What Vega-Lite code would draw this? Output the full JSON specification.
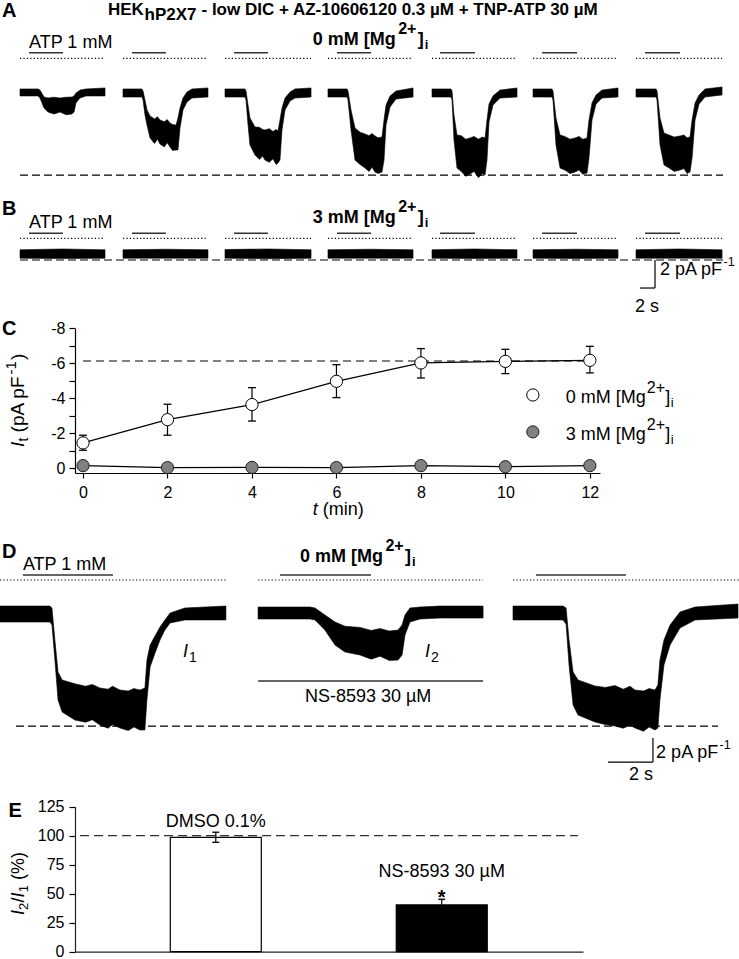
{
"$schema":"https://vega.github.io/schema/vega-lite/v6.json",
"width":739,"height":959,"autosize":"none","padding":0,"background":"white",
"config":{"view":{"stroke":null},"font":"Liberation Sans",
"text":{"font":"Liberation Sans","fontSize":18,"color":"black","align":"left","baseline":"alphabetic"},
"axis":{"labelFont":"Liberation Sans","labelFontSize":16,"labelColor":"black","domainColor":"black","tickColor":"black","domainWidth":1.2,"tickWidth":1.2,"grid":false}},
"resolve":{"scale":{"x":"independent","y":"independent"}},
"datasets":{
"traceA":[
{"sweep":1,"t":2.67,"hi":0.29,"lo":-0.21},{"sweep":1,"t":5.07,"hi":0.29,"lo":-0.21},{"sweep":1,"t":5.33,"hi":0.21,"lo":-0.36},{"sweep":1,"t":5.87,"hi":-0.29,"lo":-1.07},{"sweep":1,"t":6.4,"hi":-0.36,"lo":-1.36},{"sweep":1,"t":7.2,"hi":-0.3,"lo":-1.5},{"sweep":1,"t":8.0,"hi":-0.36,"lo":-1.36},{"sweep":1,"t":8.8,"hi":-0.3,"lo":-1.55},{"sweep":1,"t":9.6,"hi":-0.29,"lo":-1.5},{"sweep":1,"t":9.87,"hi":-0.21,"lo":-1.36},{"sweep":1,"t":10.13,"hi":0,"lo":-0.71},{"sweep":1,"t":10.67,"hi":0.21,"lo":-0.36},{"sweep":1,"t":11.47,"hi":0.29,"lo":-0.21},{"sweep":1,"t":14.0,"hi":0.36,"lo":-0.21},
{"sweep":2,"t":16.4,"hi":0.29,"lo":-0.29},{"sweep":2,"t":18.93,"hi":0.29,"lo":-0.29},{"sweep":2,"t":19.07,"hi":0.14,"lo":-0.5},{"sweep":2,"t":19.33,"hi":-0.5,"lo":-1.57},{"sweep":2,"t":19.6,"hi":-1.21,"lo":-2.29},{"sweep":2,"t":20.0,"hi":-1.64,"lo":-3.21},{"sweep":2,"t":20.6,"hi":-1.85,"lo":-3.6},{"sweep":2,"t":21.0,"hi":-1.7,"lo":-3.3},{"sweep":2,"t":21.33,"hi":-1.93,"lo":-3.64},{"sweep":2,"t":21.9,"hi":-2.05,"lo":-3.85},{"sweep":2,"t":22.3,"hi":-1.9,"lo":-3.55},{"sweep":2,"t":22.67,"hi":-2.14,"lo":-3.86},{"sweep":2,"t":23.0,"hi":-2.25,"lo":-4.1},{"sweep":2,"t":23.47,"hi":-2.29,"lo":-4.07},{"sweep":2,"t":23.73,"hi":-1.79,"lo":-4.07},{"sweep":2,"t":24.0,"hi":-1.07,"lo":-2.5},{"sweep":2,"t":24.4,"hi":-0.36,"lo":-1.21},{"sweep":2,"t":24.93,"hi":0.07,"lo":-0.64},{"sweep":2,"t":25.6,"hi":0.29,"lo":-0.36},{"sweep":2,"t":27.73,"hi":0.36,"lo":-0.29},
{"sweep":3,"t":30.0,"hi":0.29,"lo":-0.29},{"sweep":3,"t":32.67,"hi":0.29,"lo":-0.29},{"sweep":3,"t":32.8,"hi":0.14,"lo":-0.5},{"sweep":3,"t":33.07,"hi":-0.86,"lo":-2.29},{"sweep":3,"t":33.33,"hi":-1.79,"lo":-3.71},{"sweep":3,"t":34.0,"hi":-2.43,"lo":-4.43},{"sweep":3,"t":34.6,"hi":-2.45,"lo":-4.75},{"sweep":3,"t":35.0,"hi":-2.6,"lo":-4.5},{"sweep":3,"t":35.33,"hi":-2.64,"lo":-4.79},{"sweep":3,"t":35.9,"hi":-2.55,"lo":-4.95},{"sweep":3,"t":36.4,"hi":-2.75,"lo":-4.7},{"sweep":3,"t":36.8,"hi":-2.6,"lo":-5.1},{"sweep":3,"t":37.07,"hi":-2.71,"lo":-5.0},{"sweep":3,"t":37.33,"hi":-1.93,"lo":-4.79},{"sweep":3,"t":37.6,"hi":-1.07,"lo":-2.64},{"sweep":3,"t":38.0,"hi":-0.36,"lo":-1.21},{"sweep":3,"t":38.67,"hi":0.07,"lo":-0.57},{"sweep":3,"t":39.33,"hi":0.29,"lo":-0.36},{"sweep":3,"t":41.47,"hi":0.36,"lo":-0.29},
{"sweep":4,"t":43.73,"hi":0.29,"lo":-0.29},{"sweep":4,"t":46.27,"hi":0.29,"lo":-0.29},{"sweep":4,"t":46.4,"hi":0.14,"lo":-0.5},{"sweep":4,"t":46.8,"hi":-1.21,"lo":-2.64},{"sweep":4,"t":47.33,"hi":-2.5,"lo":-4.79},{"sweep":4,"t":48.0,"hi":-2.8,"lo":-5.1},{"sweep":4,"t":48.67,"hi":-2.93,"lo":-5.36},{"sweep":4,"t":49.2,"hi":-3.05,"lo":-5.6},{"sweep":4,"t":49.6,"hi":-2.9,"lo":-5.3},{"sweep":4,"t":50.0,"hi":-3.07,"lo":-5.64},{"sweep":4,"t":50.4,"hi":-3.2,"lo":-5.75},{"sweep":4,"t":50.93,"hi":-3.14,"lo":-5.64},{"sweep":4,"t":51.2,"hi":-1.93,"lo":-4.79},{"sweep":4,"t":51.47,"hi":-0.86,"lo":-2.29},{"sweep":4,"t":52.0,"hi":-0.21,"lo":-1.0},{"sweep":4,"t":52.8,"hi":0.14,"lo":-0.43},{"sweep":4,"t":55.07,"hi":0.36,"lo":-0.29},
{"sweep":5,"t":57.6,"hi":0.29,"lo":-0.29},{"sweep":5,"t":60.13,"hi":0.29,"lo":-0.29},{"sweep":5,"t":60.27,"hi":0.14,"lo":-0.5},{"sweep":5,"t":60.53,"hi":-1.57,"lo":-3.36},{"sweep":5,"t":60.93,"hi":-3.0,"lo":-5.36},{"sweep":5,"t":61.5,"hi":-3.05,"lo":-5.6},{"sweep":5,"t":62.1,"hi":-3.3,"lo":-5.95},{"sweep":5,"t":62.67,"hi":-3.21,"lo":-5.79},{"sweep":5,"t":63.2,"hi":-3.1,"lo":-5.6},{"sweep":5,"t":63.8,"hi":-3.3,"lo":-6.05},{"sweep":5,"t":64.3,"hi":-3.15,"lo":-5.75},{"sweep":5,"t":64.67,"hi":-3.21,"lo":-5.86},{"sweep":5,"t":64.93,"hi":-1.93,"lo":-4.79},{"sweep":5,"t":65.2,"hi":-0.79,"lo":-2.07},{"sweep":5,"t":65.73,"hi":-0.21,"lo":-0.86},{"sweep":5,"t":66.67,"hi":0.21,"lo":-0.36},{"sweep":5,"t":68.93,"hi":0.36,"lo":-0.29},
{"sweep":6,"t":71.07,"hi":0.29,"lo":-0.29},{"sweep":6,"t":73.6,"hi":0.29,"lo":-0.29},{"sweep":6,"t":73.73,"hi":0.14,"lo":-0.5},{"sweep":6,"t":74.13,"hi":-1.79,"lo":-3.71},{"sweep":6,"t":74.67,"hi":-3.0,"lo":-5.36},{"sweep":6,"t":75.3,"hi":-3.1,"lo":-5.5},{"sweep":6,"t":76.0,"hi":-3.3,"lo":-5.75},{"sweep":6,"t":76.67,"hi":-3.21,"lo":-5.64},{"sweep":6,"t":77.2,"hi":-3.1,"lo":-5.5},{"sweep":6,"t":77.7,"hi":-3.3,"lo":-5.8},{"sweep":6,"t":78.27,"hi":-3.21,"lo":-5.71},{"sweep":6,"t":78.53,"hi":-1.93,"lo":-4.64},{"sweep":6,"t":78.93,"hi":-0.71,"lo":-1.93},{"sweep":6,"t":79.47,"hi":-0.14,"lo":-0.79},{"sweep":6,"t":80.27,"hi":0.21,"lo":-0.36},{"sweep":6,"t":82.4,"hi":0.36,"lo":-0.29},
{"sweep":7,"t":84.8,"hi":0.29,"lo":-0.29},{"sweep":7,"t":87.47,"hi":0.29,"lo":-0.29},{"sweep":7,"t":87.6,"hi":0.14,"lo":-0.5},{"sweep":7,"t":88.0,"hi":-1.79,"lo":-3.71},{"sweep":7,"t":88.53,"hi":-2.86,"lo":-5.14},{"sweep":7,"t":89.2,"hi":-3.0,"lo":-5.35},{"sweep":7,"t":89.9,"hi":-3.15,"lo":-5.6},{"sweep":7,"t":90.67,"hi":-3.07,"lo":-5.5},{"sweep":7,"t":91.2,"hi":-3.0,"lo":-5.4},{"sweep":7,"t":91.6,"hi":-3.2,"lo":-5.75},{"sweep":7,"t":92.0,"hi":-3.14,"lo":-5.64},{"sweep":7,"t":92.27,"hi":-1.93,"lo":-4.64},{"sweep":7,"t":92.67,"hi":-0.71,"lo":-1.93},{"sweep":7,"t":93.2,"hi":-0.14,"lo":-0.79},{"sweep":7,"t":94.0,"hi":0.29,"lo":-0.29},{"sweep":7,"t":96.27,"hi":0.43,"lo":-0.14}
],
"sweepA":[{"t0":2.67,"t1":14.0},{"t0":16.4,"t1":27.73},{"t0":30.0,"t1":41.47},{"t0":43.73,"t1":55.07},{"t0":57.6,"t1":68.93},{"t0":71.07,"t1":82.4},{"t0":84.8,"t1":96.27}],
"atpA":[{"t0":3.87,"t1":8.4},{"t0":17.6,"t1":22.13},{"t0":31.2,"t1":35.73},{"t0":44.93,"t1":49.47},{"t0":58.67,"t1":63.33},{"t0":72.27,"t1":76.93},{"t0":86.0,"t1":90.67}],
"refA":[{"t0":2.67,"t1":96.4,"I":-5.86}],
"txtA":[
{"part":"letter","label":"A","t":0.27,"I":5.43},
{"part":"title1","label":"HEK","t":14.4,"I":5.57},
{"part":"title2","label":"hP2X7","t":14.4,"I":5.57},
{"part":"title3","label":"- low DIC + AZ-10606120 0.3 µM + TNP-ATP 30 µM","t":14.4,"I":5.57},
{"part":"atp","label":"ATP 1 mM","t":3.87,"I":3.21},
{"part":"mg1","label":"0 mM [Mg","t":41.69,"I":3.43},
{"part":"mg2","label":"2+","t":41.69,"I":3.43},
{"part":"mg3","label":"]","t":41.69,"I":3.43},
{"part":"mg4","label":"i","t":41.69,"I":3.43}
],
"traceB":[
{"sweep":1,"t":2.67,"hi":0.3,"lo":-0.3},{"sweep":1,"t":8.3,"hi":0.36,"lo":-0.33},{"sweep":1,"t":14.0,"hi":0.3,"lo":-0.3},
{"sweep":2,"t":16.4,"hi":0.3,"lo":-0.3},{"sweep":2,"t":22.1,"hi":0.34,"lo":-0.3},{"sweep":2,"t":27.73,"hi":0.3,"lo":-0.3},
{"sweep":3,"t":30.0,"hi":0.32,"lo":-0.3},{"sweep":3,"t":35.7,"hi":0.36,"lo":-0.34},{"sweep":3,"t":41.47,"hi":0.3,"lo":-0.3},
{"sweep":4,"t":43.73,"hi":0.3,"lo":-0.3},{"sweep":4,"t":49.4,"hi":0.34,"lo":-0.3},{"sweep":4,"t":55.07,"hi":0.3,"lo":-0.3},
{"sweep":5,"t":57.6,"hi":0.3,"lo":-0.3},{"sweep":5,"t":63.3,"hi":0.36,"lo":-0.32},{"sweep":5,"t":68.93,"hi":0.3,"lo":-0.3},
{"sweep":6,"t":71.07,"hi":0.3,"lo":-0.3},{"sweep":6,"t":76.7,"hi":0.34,"lo":-0.32},{"sweep":6,"t":82.4,"hi":0.3,"lo":-0.3},
{"sweep":7,"t":84.8,"hi":0.3,"lo":-0.3},{"sweep":7,"t":90.5,"hi":0.36,"lo":-0.3},{"sweep":7,"t":96.27,"hi":0.3,"lo":-0.3}
],
"refB":[{"t0":2.67,"t1":96.4,"I":-0.43}],
"sbB":[{"t0":85.33,"t1":87.33,"I0":-2.43,"I1":-2.43},{"t0":87.33,"t1":87.33,"I0":-0.43,"I1":-2.43}],
"txtB":[
{"part":"letter","label":"B","t":0.27,"I":2.79},
{"part":"atp","label":"ATP 1 mM","t":3.87,"I":1.86},
{"part":"mg1","label":"3 mM [Mg","t":41.69,"I":2.21},
{"part":"mg2","label":"2+","t":41.69,"I":2.21},
{"part":"mg3","label":"]","t":41.69,"I":2.21},
{"part":"mg4","label":"i","t":41.69,"I":2.21},
{"part":"sb1","label":"2 pA pF","t":88.0,"I":-1.5},
{"part":"sb2","label":"-1","t":88.0,"I":-1.5},
{"part":"sb3","label":"2 s","t":86.27,"I":-4.12}
],
"c0":[{"t":0,"mean":-1.45,"lo":-1.03,"hi":-1.89},{"t":2,"mean":-2.78,"lo":-1.89,"hi":-3.66},{"t":4,"mean":-3.64,"lo":-2.7,"hi":-4.61},{"t":6,"mean":-4.97,"lo":-4.04,"hi":-5.92},{"t":8,"mean":-6.02,"lo":-5.16,"hi":-6.84},{"t":10,"mean":-6.11,"lo":-5.41,"hi":-6.8},{"t":12,"mean":-6.17,"lo":-5.45,"hi":-6.97}],
"c3":[{"t":0,"mean":-0.15},{"t":2,"mean":-0.04},{"t":4,"mean":-0.05},{"t":6,"mean":-0.04},{"t":8,"mean":-0.15},{"t":10,"mean":-0.09},{"t":12,"mean":-0.15}],
"refC":[{"t0":0,"t1":12,"I":-6.13}],
"legC":[{"series":"0 mM","t":10.65,"I":-4.19},{"series":"3 mM","t":10.65,"I":-2.08}],
"txtC":[
{"part":"letter","label":"C","t":-1.917,"I":-7.62},
{"part":"leg1","label":"0 mM [Mg","t":11.43,"I":-3.73},
{"part":"leg1","label":"3 mM [Mg","t":11.43,"I":-1.62},
{"part":"leg2","label":"2+","t":11.43,"I":-3.73},
{"part":"leg2","label":"2+","t":11.43,"I":-1.62},
{"part":"leg3","label":"]","t":11.43,"I":-3.73},
{"part":"leg3","label":"]","t":11.43,"I":-1.62},
{"part":"leg4","label":"i","t":11.43,"I":-3.73},
{"part":"leg4","label":"i","t":11.43,"I":-1.62},
{"part":"yt1","label":"I","t":-1.397,"I":-1.22},
{"part":"yt2","label":"t","t":-1.397,"I":-1.22},
{"part":"yt3","label":"(pA pF","t":-1.397,"I":-1.22},
{"part":"yt4","label":"-1","t":-1.397,"I":-1.22},
{"part":"yt5","label":")","t":-1.397,"I":-1.22},
{"part":"xt1","label":"t","t":5.44,"I":2.67},
{"part":"xt2","label":"(min)","t":5.44,"I":2.67}
],
"traceD":[
{"sweep":1,"t":0,"hi":0.58,"lo":-0.75},{"sweep":1,"t":2.22,"hi":0.58,"lo":-0.75},{"sweep":1,"t":2.31,"hi":0.42,"lo":-1.0},{"sweep":1,"t":2.44,"hi":-2.25,"lo":-3.92},{"sweep":1,"t":2.58,"hi":-4.92,"lo":-7.25},{"sweep":1,"t":2.76,"hi":-5.58,"lo":-8.25},{"sweep":1,"t":3.33,"hi":-5.9,"lo":-8.92},{"sweep":1,"t":3.8,"hi":-6.1,"lo":-9.1},{"sweep":1,"t":4.1,"hi":-5.95,"lo":-8.9},{"sweep":1,"t":4.44,"hi":-6.25,"lo":-9.33},{"sweep":1,"t":4.8,"hi":-6.35,"lo":-9.6},{"sweep":1,"t":5.0,"hi":-6.1,"lo":-9.3},{"sweep":1,"t":5.33,"hi":-6.42,"lo":-9.58},{"sweep":1,"t":5.7,"hi":-6.5,"lo":-9.8},{"sweep":1,"t":5.95,"hi":-6.3,"lo":-9.5},{"sweep":1,"t":6.22,"hi":-6.42,"lo":-9.75},{"sweep":1,"t":6.44,"hi":-6.25,"lo":-9.75},{"sweep":1,"t":6.53,"hi":-3.92,"lo":-7.25},{"sweep":1,"t":6.67,"hi":-2.67,"lo":-4.5},{"sweep":1,"t":6.89,"hi":-1.92,"lo":-3.33},{"sweep":1,"t":7.11,"hi":-1.17,"lo":-2.25},{"sweep":1,"t":7.33,"hi":-0.58,"lo":-1.42},{"sweep":1,"t":7.56,"hi":0,"lo":-0.83},{"sweep":1,"t":8.22,"hi":0.42,"lo":-0.58},{"sweep":1,"t":10.04,"hi":0.58,"lo":-0.58},
{"sweep":2,"t":11.47,"hi":0.5,"lo":-0.5},{"sweep":2,"t":13.78,"hi":0.5,"lo":-0.5},{"sweep":2,"t":14.0,"hi":0.42,"lo":-0.58},{"sweep":2,"t":14.44,"hi":-0.17,"lo":-1.42},{"sweep":2,"t":14.89,"hi":-0.75,"lo":-2.67},{"sweep":2,"t":15.33,"hi":-1.1,"lo":-3.25},{"sweep":2,"t":16.0,"hi":-1.2,"lo":-3.5},{"sweep":2,"t":16.5,"hi":-1.45,"lo":-3.85},{"sweep":2,"t":16.89,"hi":-1.3,"lo":-3.6},{"sweep":2,"t":17.3,"hi":-1.5,"lo":-3.95},{"sweep":2,"t":17.69,"hi":-1.42,"lo":-3.92},{"sweep":2,"t":17.87,"hi":-1.0,"lo":-3.5},{"sweep":2,"t":18.0,"hi":-0.17,"lo":-1.83},{"sweep":2,"t":18.22,"hi":0.42,"lo":-0.75},{"sweep":2,"t":18.67,"hi":0.5,"lo":-0.5},{"sweep":2,"t":19.56,"hi":0.58,"lo":-0.42},{"sweep":2,"t":21.47,"hi":0.58,"lo":-0.42},
{"sweep":3,"t":22.8,"hi":0.58,"lo":-0.58},{"sweep":3,"t":25.02,"hi":0.58,"lo":-0.58},{"sweep":3,"t":25.16,"hi":0.42,"lo":-0.92},{"sweep":3,"t":25.29,"hi":-2.25,"lo":-4.33},{"sweep":3,"t":25.47,"hi":-4.92,"lo":-7.67},{"sweep":3,"t":25.69,"hi":-5.58,"lo":-8.5},{"sweep":3,"t":26.44,"hi":-6.08,"lo":-9.08},{"sweep":3,"t":26.9,"hi":-6.2,"lo":-9.3},{"sweep":3,"t":27.33,"hi":-6.05,"lo":-9.42},{"sweep":3,"t":27.7,"hi":-6.35,"lo":-9.6},{"sweep":3,"t":28.0,"hi":-6.1,"lo":-9.35},{"sweep":3,"t":28.22,"hi":-6.42,"lo":-9.58},{"sweep":3,"t":28.6,"hi":-6.5,"lo":-9.85},{"sweep":3,"t":28.85,"hi":-6.3,"lo":-9.5},{"sweep":3,"t":29.11,"hi":-6.42,"lo":-9.75},{"sweep":3,"t":29.24,"hi":-6.0,"lo":-9.58},{"sweep":3,"t":29.33,"hi":-3.92,"lo":-7.25},{"sweep":3,"t":29.51,"hi":-2.25,"lo":-4.33},{"sweep":3,"t":29.78,"hi":-1.0,"lo":-2.67},{"sweep":3,"t":30.22,"hi":0.08,"lo":-1.25},{"sweep":3,"t":30.89,"hi":0.5,"lo":-0.58},{"sweep":3,"t":32.8,"hi":0.75,"lo":-0.42}
],
"sweepD":[{"t0":0,"t1":10.04},{"t0":11.47,"t1":21.47},{"t0":22.8,"t1":32.84}],
"atpD":[{"t0":1.02,"t1":5.02},{"t0":12.44,"t1":16.49},{"t0":23.82,"t1":27.82}],
"refD":[{"t0":0.71,"t1":31.91,"I":-9.42}],
"nsD":[{"t0":11.47,"t1":21.47,"I":-5.67}],
"sbD":[{"t0":27.02,"t1":29.02,"I0":-12.42,"I1":-12.42},{"t0":29.02,"t1":29.02,"I0":-10.42,"I1":-12.42}],
"txtD":[
{"part":"letter","label":"D","t":0.09,"I":4.58},
{"part":"atp","label":"ATP 1 mM","t":1.02,"I":3.58},
{"part":"mg1","label":"0 mM [Mg","t":13.33,"I":4.25},
{"part":"mg2","label":"2+","t":13.33,"I":4.25},
{"part":"mg3","label":"]","t":13.33,"I":4.25},
{"part":"mg4","label":"i","t":13.33,"I":4.25},
{"part":"iI","label":"I","t":8.13,"I":-3.67},
{"part":"iI","label":"I","t":18.89,"I":-3.67},
{"part":"isub","label":"1","t":8.13,"I":-3.67},
{"part":"isub","label":"2","t":18.89,"I":-3.67},
{"part":"ns","label":"NS-8593 30 µM","t":16.36,"I":-7.42},
{"part":"sb1","label":"2 pA pF","t":29.16,"I":-12.08},
{"part":"sb2","label":"-1","t":29.16,"I":-12.08},
{"part":"sb3","label":"2 s","t":28.49,"I":-13.92}
],
"barE":[{"group":"DMSO 0.1%","pos":1,"value":98.6,"lo":94.3,"hi":103.0},{"group":"NS-8593 30 µM","pos":2,"value":40.3,"lo":40.3,"hi":45.2}],
"refE":[{"p0":0.399,"p1":2.603,"value":100}],
"txtE":[
{"part":"letter","label":"E","pos":0.0824,"value":116.4},
{"part":"ctr","label":"DMSO 0.1%","pos":1,"value":107.8},
{"part":"ctr","label":"NS-8593 30 µM","pos":2,"value":64.7},
{"part":"star","label":"*","pos":2,"value":41.1},
{"part":"yt1","label":"I","pos":0.152,"value":31.6},
{"part":"yt2","label":"2","pos":0.152,"value":31.6},
{"part":"yt3","label":"/","pos":0.152,"value":31.6},
{"part":"yt4","label":"I","pos":0.152,"value":31.6},
{"part":"yt5","label":"1","pos":0.152,"value":31.6},
{"part":"yt6","label":"(%)","pos":0.152,"value":31.6}
]
},
"layer":[
{"layer":[
{"data":{"name":"traceA"},"mark":{"type":"area","color":"black","opacity":1,"stroke":"black","strokeWidth":0.6},"encoding":{"x":{"field":"t","type":"quantitative","scale":{"domain":[0,98.53],"nice":false,"zero":false},"axis":null},"y":{"field":"hi","type":"quantitative","scale":{"domain":[-61.857,6.643],"nice":false,"zero":false},"axis":null},"y2":{"field":"lo"},"detail":{"field":"sweep","type":"nominal"}}},
{"data":{"name":"sweepA"},"mark":{"type":"rule","color":"black","strokeWidth":1.2,"strokeDash":[1.2,2.2]},"encoding":{"x":{"field":"t0","type":"quantitative","scale":{"domain":[0,98.53],"nice":false,"zero":false},"axis":null},"x2":{"field":"t1"},"y":{"datum":2.48,"type":"quantitative","scale":{"domain":[-61.857,6.643],"nice":false,"zero":false},"axis":null}}},
{"data":{"name":"atpA"},"mark":{"type":"rule","color":"#333","strokeWidth":1.4},"encoding":{"x":{"field":"t0","type":"quantitative","scale":{"domain":[0,98.53],"nice":false,"zero":false},"axis":null},"x2":{"field":"t1"},"y":{"datum":2.88,"type":"quantitative","scale":{"domain":[-61.857,6.643],"nice":false,"zero":false},"axis":null}}},
{"data":{"name":"refA"},"mark":{"type":"rule","color":"black","strokeWidth":1.2,"strokeDash":[8,4]},"encoding":{"x":{"field":"t0","type":"quantitative","scale":{"domain":[0,98.53],"nice":false,"zero":false},"axis":null},"x2":{"field":"t1"},"y":{"field":"I","type":"quantitative","scale":{"domain":[-61.857,6.643],"nice":false,"zero":false},"axis":null}}},
{"data":{"name":"txtA"},"transform":[{"filter":"datum.part=='letter'"}],"mark":{"type":"text","fontSize":20,"fontWeight":"bold"},"encoding":{"x":{"field":"t","type":"quantitative","scale":{"domain":[0,98.53],"nice":false,"zero":false},"axis":null},"y":{"field":"I","type":"quantitative","scale":{"domain":[-61.857,6.643],"nice":false,"zero":false},"axis":null},"text":{"field":"label"}}},
{"data":{"name":"txtA"},"transform":[{"filter":"datum.part=='title1'"}],"mark":{"type":"text","fontSize":17,"fontWeight":"bold"},"encoding":{"x":{"field":"t","type":"quantitative","scale":{"domain":[0,98.53],"nice":false,"zero":false},"axis":null},"y":{"field":"I","type":"quantitative","scale":{"domain":[-61.857,6.643],"nice":false,"zero":false},"axis":null},"text":{"field":"label"}}},
{"data":{"name":"txtA"},"transform":[{"filter":"datum.part=='title2'"}],"mark":{"type":"text","fontSize":17,"fontWeight":"bold","dx":36.5,"dy":5},"encoding":{"x":{"field":"t","type":"quantitative","scale":{"domain":[0,98.53],"nice":false,"zero":false},"axis":null},"y":{"field":"I","type":"quantitative","scale":{"domain":[-61.857,6.643],"nice":false,"zero":false},"axis":null},"text":{"field":"label"}}},
{"data":{"name":"txtA"},"transform":[{"filter":"datum.part=='title3'"}],"mark":{"type":"text","fontSize":17,"fontWeight":"bold","dx":93.5},"encoding":{"x":{"field":"t","type":"quantitative","scale":{"domain":[0,98.53],"nice":false,"zero":false},"axis":null},"y":{"field":"I","type":"quantitative","scale":{"domain":[-61.857,6.643],"nice":false,"zero":false},"axis":null},"text":{"field":"label"}}},
{"data":{"name":"txtA"},"transform":[{"filter":"datum.part=='atp'"}],"mark":{"type":"text","fontSize":18},"encoding":{"x":{"field":"t","type":"quantitative","scale":{"domain":[0,98.53],"nice":false,"zero":false},"axis":null},"y":{"field":"I","type":"quantitative","scale":{"domain":[-61.857,6.643],"nice":false,"zero":false},"axis":null},"text":{"field":"label"}}},
{"data":{"name":"txtA"},"transform":[{"filter":"datum.part=='mg1'"}],"mark":{"type":"text","fontSize":18,"fontWeight":"bold"},"encoding":{"x":{"field":"t","type":"quantitative","scale":{"domain":[0,98.53],"nice":false,"zero":false},"axis":null},"y":{"field":"I","type":"quantitative","scale":{"domain":[-61.857,6.643],"nice":false,"zero":false},"axis":null},"text":{"field":"label"}}},
{"data":{"name":"txtA"},"transform":[{"filter":"datum.part=='mg2'"}],"mark":{"type":"text","fontSize":16,"fontWeight":"bold","dx":85.5,"dy":-11},"encoding":{"x":{"field":"t","type":"quantitative","scale":{"domain":[0,98.53],"nice":false,"zero":false},"axis":null},"y":{"field":"I","type":"quantitative","scale":{"domain":[-61.857,6.643],"nice":false,"zero":false},"axis":null},"text":{"field":"label"}}},
{"data":{"name":"txtA"},"transform":[{"filter":"datum.part=='mg3'"}],"mark":{"type":"text","fontSize":18,"fontWeight":"bold","dx":105},"encoding":{"x":{"field":"t","type":"quantitative","scale":{"domain":[0,98.53],"nice":false,"zero":false},"axis":null},"y":{"field":"I","type":"quantitative","scale":{"domain":[-61.857,6.643],"nice":false,"zero":false},"axis":null},"text":{"field":"label"}}},
{"data":{"name":"txtA"},"transform":[{"filter":"datum.part=='mg4'"}],"mark":{"type":"text","fontSize":13,"fontWeight":"bold","dx":112,"dy":4},"encoding":{"x":{"field":"t","type":"quantitative","scale":{"domain":[0,98.53],"nice":false,"zero":false},"axis":null},"y":{"field":"I","type":"quantitative","scale":{"domain":[-61.857,6.643],"nice":false,"zero":false},"axis":null},"text":{"field":"label"}}}
]},
{"layer":[
{"data":{"name":"traceB"},"mark":{"type":"area","color":"black","opacity":1,"stroke":"black","strokeWidth":0.6},"encoding":{"x":{"field":"t","type":"quantitative","scale":{"domain":[0,98.53],"nice":false,"zero":false},"axis":null},"y":{"field":"hi","type":"quantitative","scale":{"domain":[-50.357,18.143],"nice":false,"zero":false},"axis":null},"y2":{"field":"lo"},"detail":{"field":"sweep","type":"nominal"}}},
{"data":{"name":"sweepA"},"mark":{"type":"rule","color":"black","strokeWidth":1.2,"strokeDash":[1.2,2.2]},"encoding":{"x":{"field":"t0","type":"quantitative","scale":{"domain":[0,98.53],"nice":false,"zero":false},"axis":null},"x2":{"field":"t1"},"y":{"datum":1.12,"type":"quantitative","scale":{"domain":[-50.357,18.143],"nice":false,"zero":false},"axis":null}}},
{"data":{"name":"atpA"},"mark":{"type":"rule","color":"#333","strokeWidth":1.4},"encoding":{"x":{"field":"t0","type":"quantitative","scale":{"domain":[0,98.53],"nice":false,"zero":false},"axis":null},"x2":{"field":"t1"},"y":{"datum":1.48,"type":"quantitative","scale":{"domain":[-50.357,18.143],"nice":false,"zero":false},"axis":null}}},
{"data":{"name":"refB"},"mark":{"type":"rule","color":"black","strokeWidth":1.2,"strokeDash":[8,4]},"encoding":{"x":{"field":"t0","type":"quantitative","scale":{"domain":[0,98.53],"nice":false,"zero":false},"axis":null},"x2":{"field":"t1"},"y":{"field":"I","type":"quantitative","scale":{"domain":[-50.357,18.143],"nice":false,"zero":false},"axis":null}}},
{"data":{"name":"sbB"},"mark":{"type":"rule","color":"black","strokeWidth":1.2},"encoding":{"x":{"field":"t0","type":"quantitative","scale":{"domain":[0,98.53],"nice":false,"zero":false},"axis":null},"x2":{"field":"t1"},"y":{"field":"I0","type":"quantitative","scale":{"domain":[-50.357,18.143],"nice":false,"zero":false},"axis":null},"y2":{"field":"I1"}}},
{"data":{"name":"txtB"},"transform":[{"filter":"datum.part=='letter'"}],"mark":{"type":"text","fontSize":20,"fontWeight":"bold"},"encoding":{"x":{"field":"t","type":"quantitative","scale":{"domain":[0,98.53],"nice":false,"zero":false},"axis":null},"y":{"field":"I","type":"quantitative","scale":{"domain":[-50.357,18.143],"nice":false,"zero":false},"axis":null},"text":{"field":"label"}}},
{"data":{"name":"txtB"},"transform":[{"filter":"datum.part=='atp' || datum.part=='sb1'"}],"mark":{"type":"text","fontSize":18},"encoding":{"x":{"field":"t","type":"quantitative","scale":{"domain":[0,98.53],"nice":false,"zero":false},"axis":null},"y":{"field":"I","type":"quantitative","scale":{"domain":[-50.357,18.143],"nice":false,"zero":false},"axis":null},"text":{"field":"label"}}},
{"data":{"name":"txtB"},"transform":[{"filter":"datum.part=='sb2'"}],"mark":{"type":"text","fontSize":12.5,"dx":63.5,"dy":-9},"encoding":{"x":{"field":"t","type":"quantitative","scale":{"domain":[0,98.53],"nice":false,"zero":false},"axis":null},"y":{"field":"I","type":"quantitative","scale":{"domain":[-50.357,18.143],"nice":false,"zero":false},"axis":null},"text":{"field":"label"}}},
{"data":{"name":"txtB"},"transform":[{"filter":"datum.part=='sb3'"}],"mark":{"type":"text","fontSize":18,"align":"center"},"encoding":{"x":{"field":"t","type":"quantitative","scale":{"domain":[0,98.53],"nice":false,"zero":false},"axis":null},"y":{"field":"I","type":"quantitative","scale":{"domain":[-50.357,18.143],"nice":false,"zero":false},"axis":null},"text":{"field":"label"}}},
{"data":{"name":"txtB"},"transform":[{"filter":"datum.part=='mg1'"}],"mark":{"type":"text","fontSize":18,"fontWeight":"bold"},"encoding":{"x":{"field":"t","type":"quantitative","scale":{"domain":[0,98.53],"nice":false,"zero":false},"axis":null},"y":{"field":"I","type":"quantitative","scale":{"domain":[-50.357,18.143],"nice":false,"zero":false},"axis":null},"text":{"field":"label"}}},
{"data":{"name":"txtB"},"transform":[{"filter":"datum.part=='mg2'"}],"mark":{"type":"text","fontSize":16,"fontWeight":"bold","dx":85.5,"dy":-11},"encoding":{"x":{"field":"t","type":"quantitative","scale":{"domain":[0,98.53],"nice":false,"zero":false},"axis":null},"y":{"field":"I","type":"quantitative","scale":{"domain":[-50.357,18.143],"nice":false,"zero":false},"axis":null},"text":{"field":"label"}}},
{"data":{"name":"txtB"},"transform":[{"filter":"datum.part=='mg3'"}],"mark":{"type":"text","fontSize":18,"fontWeight":"bold","dx":105},"encoding":{"x":{"field":"t","type":"quantitative","scale":{"domain":[0,98.53],"nice":false,"zero":false},"axis":null},"y":{"field":"I","type":"quantitative","scale":{"domain":[-50.357,18.143],"nice":false,"zero":false},"axis":null},"text":{"field":"label"}}},
{"data":{"name":"txtB"},"transform":[{"filter":"datum.part=='mg4'"}],"mark":{"type":"text","fontSize":13,"fontWeight":"bold","dx":112,"dy":4},"encoding":{"x":{"field":"t","type":"quantitative","scale":{"domain":[0,98.53],"nice":false,"zero":false},"axis":null},"y":{"field":"I","type":"quantitative","scale":{"domain":[-50.357,18.143],"nice":false,"zero":false},"axis":null},"text":{"field":"label"}}}
]},
{"layer":[
{"data":{"name":"refC"},"mark":{"type":"rule","color":"black","strokeWidth":1.2,"strokeDash":[8,5]},"encoding":{"x":{"field":"t0","type":"quantitative","scale":{"domain":[-0.19,12.24],"range":[75,600],"nice":false,"zero":false},"axis":{"orient":"bottom","offset":-486,"values":[0,2,4,6,8,10,12],"tickSize":5,"labelPadding":6,"labelFontSize":16,"title":null,"labelOverlap":false,"labelFlush":false}},"x2":{"field":"t1"},"y":{"field":"I","type":"quantitative","scale":{"domain":[0.27,-8],"range":[473,328.3],"nice":false,"zero":false},"axis":{"orient":"left","offset":-75,"values":[-8,-7,-6,-5,-4,-3,-2,-1,0],"labelExpr":"datum.value % 2 == 0 ? '' + datum.value : ''","tickSize":6,"labelPadding":4,"labelFontSize":16,"title":null,"labelOverlap":false,"labelFlush":false}}}},
{"data":{"name":"c0"},"mark":{"type":"line","color":"black","strokeWidth":1.2},"encoding":{"x":{"field":"t","type":"quantitative","scale":{"domain":[-0.19,12.24],"range":[75,600],"nice":false,"zero":false},"axis":{"orient":"bottom","offset":-486,"values":[0,2,4,6,8,10,12],"tickSize":5,"labelPadding":6,"labelFontSize":16,"title":null,"labelOverlap":false,"labelFlush":false}},"y":{"field":"mean","type":"quantitative","scale":{"domain":[0.27,-8],"range":[473,328.3],"nice":false,"zero":false},"axis":{"orient":"left","offset":-75,"values":[-8,-7,-6,-5,-4,-3,-2,-1,0],"labelExpr":"datum.value % 2 == 0 ? '' + datum.value : ''","tickSize":6,"labelPadding":4,"labelFontSize":16,"title":null,"labelOverlap":false,"labelFlush":false}}}},
{"data":{"name":"c3"},"mark":{"type":"line","color":"black","strokeWidth":1.2},"encoding":{"x":{"field":"t","type":"quantitative","scale":{"domain":[-0.19,12.24],"range":[75,600],"nice":false,"zero":false},"axis":{"orient":"bottom","offset":-486,"values":[0,2,4,6,8,10,12],"tickSize":5,"labelPadding":6,"labelFontSize":16,"title":null,"labelOverlap":false,"labelFlush":false}},"y":{"field":"mean","type":"quantitative","scale":{"domain":[0.27,-8],"range":[473,328.3],"nice":false,"zero":false},"axis":{"orient":"left","offset":-75,"values":[-8,-7,-6,-5,-4,-3,-2,-1,0],"labelExpr":"datum.value % 2 == 0 ? '' + datum.value : ''","tickSize":6,"labelPadding":4,"labelFontSize":16,"title":null,"labelOverlap":false,"labelFlush":false}}}},
{"data":{"name":"c0"},"mark":{"type":"rule","color":"black","strokeWidth":1.2},"encoding":{"x":{"field":"t","type":"quantitative","scale":{"domain":[-0.19,12.24],"range":[75,600],"nice":false,"zero":false},"axis":{"orient":"bottom","offset":-486,"values":[0,2,4,6,8,10,12],"tickSize":5,"labelPadding":6,"labelFontSize":16,"title":null,"labelOverlap":false,"labelFlush":false}},"y":{"field":"lo","type":"quantitative","scale":{"domain":[0.27,-8],"range":[473,328.3],"nice":false,"zero":false},"axis":{"orient":"left","offset":-75,"values":[-8,-7,-6,-5,-4,-3,-2,-1,0],"labelExpr":"datum.value % 2 == 0 ? '' + datum.value : ''","tickSize":6,"labelPadding":4,"labelFontSize":16,"title":null,"labelOverlap":false,"labelFlush":false}},"y2":{"field":"hi"}}},
{"data":{"name":"c0"},"mark":{"type":"tick","orient":"horizontal","size":8,"thickness":1.3,"color":"black","opacity":1},"encoding":{"x":{"field":"t","type":"quantitative","scale":{"domain":[-0.19,12.24],"range":[75,600],"nice":false,"zero":false},"axis":{"orient":"bottom","offset":-486,"values":[0,2,4,6,8,10,12],"tickSize":5,"labelPadding":6,"labelFontSize":16,"title":null,"labelOverlap":false,"labelFlush":false}},"y":{"field":"lo","type":"quantitative","scale":{"domain":[0.27,-8],"range":[473,328.3],"nice":false,"zero":false},"axis":{"orient":"left","offset":-75,"values":[-8,-7,-6,-5,-4,-3,-2,-1,0],"labelExpr":"datum.value % 2 == 0 ? '' + datum.value : ''","tickSize":6,"labelPadding":4,"labelFontSize":16,"title":null,"labelOverlap":false,"labelFlush":false}}}},
{"data":{"name":"c0"},"mark":{"type":"tick","orient":"horizontal","size":8,"thickness":1.3,"color":"black","opacity":1},"encoding":{"x":{"field":"t","type":"quantitative","scale":{"domain":[-0.19,12.24],"range":[75,600],"nice":false,"zero":false},"axis":{"orient":"bottom","offset":-486,"values":[0,2,4,6,8,10,12],"tickSize":5,"labelPadding":6,"labelFontSize":16,"title":null,"labelOverlap":false,"labelFlush":false}},"y":{"field":"hi","type":"quantitative","scale":{"domain":[0.27,-8],"range":[473,328.3],"nice":false,"zero":false},"axis":{"orient":"left","offset":-75,"values":[-8,-7,-6,-5,-4,-3,-2,-1,0],"labelExpr":"datum.value % 2 == 0 ? '' + datum.value : ''","tickSize":6,"labelPadding":4,"labelFontSize":16,"title":null,"labelOverlap":false,"labelFlush":false}}}},
{"data":{"name":"c0"},"mark":{"type":"point","shape":"circle","filled":true,"size":150,"fill":"white","stroke":"black","strokeWidth":1,"opacity":1},"encoding":{"x":{"field":"t","type":"quantitative","scale":{"domain":[-0.19,12.24],"range":[75,600],"nice":false,"zero":false},"axis":{"orient":"bottom","offset":-486,"values":[0,2,4,6,8,10,12],"tickSize":5,"labelPadding":6,"labelFontSize":16,"title":null,"labelOverlap":false,"labelFlush":false}},"y":{"field":"mean","type":"quantitative","scale":{"domain":[0.27,-8],"range":[473,328.3],"nice":false,"zero":false},"axis":{"orient":"left","offset":-75,"values":[-8,-7,-6,-5,-4,-3,-2,-1,0],"labelExpr":"datum.value % 2 == 0 ? '' + datum.value : ''","tickSize":6,"labelPadding":4,"labelFontSize":16,"title":null,"labelOverlap":false,"labelFlush":false}}}},
{"data":{"name":"c3"},"mark":{"type":"point","shape":"circle","filled":true,"size":150,"fill":"#808080","stroke":"#222","strokeWidth":1,"opacity":1},"encoding":{"x":{"field":"t","type":"quantitative","scale":{"domain":[-0.19,12.24],"range":[75,600],"nice":false,"zero":false},"axis":{"orient":"bottom","offset":-486,"values":[0,2,4,6,8,10,12],"tickSize":5,"labelPadding":6,"labelFontSize":16,"title":null,"labelOverlap":false,"labelFlush":false}},"y":{"field":"mean","type":"quantitative","scale":{"domain":[0.27,-8],"range":[473,328.3],"nice":false,"zero":false},"axis":{"orient":"left","offset":-75,"values":[-8,-7,-6,-5,-4,-3,-2,-1,0],"labelExpr":"datum.value % 2 == 0 ? '' + datum.value : ''","tickSize":6,"labelPadding":4,"labelFontSize":16,"title":null,"labelOverlap":false,"labelFlush":false}}}},
{"data":{"name":"legC"},"transform":[{"filter":"datum.series=='0 mM'"}],"mark":{"type":"point","shape":"circle","filled":true,"size":150,"fill":"white","stroke":"black","strokeWidth":1,"opacity":1},"encoding":{"x":{"field":"t","type":"quantitative","scale":{"domain":[-0.19,12.24],"range":[75,600],"nice":false,"zero":false},"axis":{"orient":"bottom","offset":-486,"values":[0,2,4,6,8,10,12],"tickSize":5,"labelPadding":6,"labelFontSize":16,"title":null,"labelOverlap":false,"labelFlush":false}},"y":{"field":"I","type":"quantitative","scale":{"domain":[0.27,-8],"range":[473,328.3],"nice":false,"zero":false},"axis":{"orient":"left","offset":-75,"values":[-8,-7,-6,-5,-4,-3,-2,-1,0],"labelExpr":"datum.value % 2 == 0 ? '' + datum.value : ''","tickSize":6,"labelPadding":4,"labelFontSize":16,"title":null,"labelOverlap":false,"labelFlush":false}}}},
{"data":{"name":"legC"},"transform":[{"filter":"datum.series=='3 mM'"}],"mark":{"type":"point","shape":"circle","filled":true,"size":150,"fill":"#808080","stroke":"#222","strokeWidth":1,"opacity":1},"encoding":{"x":{"field":"t","type":"quantitative","scale":{"domain":[-0.19,12.24],"range":[75,600],"nice":false,"zero":false},"axis":{"orient":"bottom","offset":-486,"values":[0,2,4,6,8,10,12],"tickSize":5,"labelPadding":6,"labelFontSize":16,"title":null,"labelOverlap":false,"labelFlush":false}},"y":{"field":"I","type":"quantitative","scale":{"domain":[0.27,-8],"range":[473,328.3],"nice":false,"zero":false},"axis":{"orient":"left","offset":-75,"values":[-8,-7,-6,-5,-4,-3,-2,-1,0],"labelExpr":"datum.value % 2 == 0 ? '' + datum.value : ''","tickSize":6,"labelPadding":4,"labelFontSize":16,"title":null,"labelOverlap":false,"labelFlush":false}}}},
{"data":{"name":"txtC"},"transform":[{"filter":"datum.part=='letter'"}],"mark":{"type":"text","fontSize":20,"fontWeight":"bold"},"encoding":{"x":{"field":"t","type":"quantitative","scale":{"domain":[-0.19,12.24],"range":[75,600],"nice":false,"zero":false},"axis":{"orient":"bottom","offset":-486,"values":[0,2,4,6,8,10,12],"tickSize":5,"labelPadding":6,"labelFontSize":16,"title":null,"labelOverlap":false,"labelFlush":false}},"y":{"field":"I","type":"quantitative","scale":{"domain":[0.27,-8],"range":[473,328.3],"nice":false,"zero":false},"axis":{"orient":"left","offset":-75,"values":[-8,-7,-6,-5,-4,-3,-2,-1,0],"labelExpr":"datum.value % 2 == 0 ? '' + datum.value : ''","tickSize":6,"labelPadding":4,"labelFontSize":16,"title":null,"labelOverlap":false,"labelFlush":false}},"text":{"field":"label"}}},
{"data":{"name":"txtC"},"transform":[{"filter":"datum.part=='leg1'"}],"mark":{"type":"text","fontSize":18},"encoding":{"x":{"field":"t","type":"quantitative","scale":{"domain":[-0.19,12.24],"range":[75,600],"nice":false,"zero":false},"axis":{"orient":"bottom","offset":-486,"values":[0,2,4,6,8,10,12],"tickSize":5,"labelPadding":6,"labelFontSize":16,"title":null,"labelOverlap":false,"labelFlush":false}},"y":{"field":"I","type":"quantitative","scale":{"domain":[0.27,-8],"range":[473,328.3],"nice":false,"zero":false},"axis":{"orient":"left","offset":-75,"values":[-8,-7,-6,-5,-4,-3,-2,-1,0],"labelExpr":"datum.value % 2 == 0 ? '' + datum.value : ''","tickSize":6,"labelPadding":4,"labelFontSize":16,"title":null,"labelOverlap":false,"labelFlush":false}},"text":{"field":"label"}}},
{"data":{"name":"txtC"},"transform":[{"filter":"datum.part=='leg2'"}],"mark":{"type":"text","fontSize":16,"dx":81,"dy":-10},"encoding":{"x":{"field":"t","type":"quantitative","scale":{"domain":[-0.19,12.24],"range":[75,600],"nice":false,"zero":false},"axis":{"orient":"bottom","offset":-486,"values":[0,2,4,6,8,10,12],"tickSize":5,"labelPadding":6,"labelFontSize":16,"title":null,"labelOverlap":false,"labelFlush":false}},"y":{"field":"I","type":"quantitative","scale":{"domain":[0.27,-8],"range":[473,328.3],"nice":false,"zero":false},"axis":{"orient":"left","offset":-75,"values":[-8,-7,-6,-5,-4,-3,-2,-1,0],"labelExpr":"datum.value % 2 == 0 ? '' + datum.value : ''","tickSize":6,"labelPadding":4,"labelFontSize":16,"title":null,"labelOverlap":false,"labelFlush":false}},"text":{"field":"label"}}},
{"data":{"name":"txtC"},"transform":[{"filter":"datum.part=='leg3'"}],"mark":{"type":"text","fontSize":18,"dx":99.5},"encoding":{"x":{"field":"t","type":"quantitative","scale":{"domain":[-0.19,12.24],"range":[75,600],"nice":false,"zero":false},"axis":{"orient":"bottom","offset":-486,"values":[0,2,4,6,8,10,12],"tickSize":5,"labelPadding":6,"labelFontSize":16,"title":null,"labelOverlap":false,"labelFlush":false}},"y":{"field":"I","type":"quantitative","scale":{"domain":[0.27,-8],"range":[473,328.3],"nice":false,"zero":false},"axis":{"orient":"left","offset":-75,"values":[-8,-7,-6,-5,-4,-3,-2,-1,0],"labelExpr":"datum.value % 2 == 0 ? '' + datum.value : ''","tickSize":6,"labelPadding":4,"labelFontSize":16,"title":null,"labelOverlap":false,"labelFlush":false}},"text":{"field":"label"}}},
{"data":{"name":"txtC"},"transform":[{"filter":"datum.part=='leg4'"}],"mark":{"type":"text","fontSize":13,"dx":105,"dy":4},"encoding":{"x":{"field":"t","type":"quantitative","scale":{"domain":[-0.19,12.24],"range":[75,600],"nice":false,"zero":false},"axis":{"orient":"bottom","offset":-486,"values":[0,2,4,6,8,10,12],"tickSize":5,"labelPadding":6,"labelFontSize":16,"title":null,"labelOverlap":false,"labelFlush":false}},"y":{"field":"I","type":"quantitative","scale":{"domain":[0.27,-8],"range":[473,328.3],"nice":false,"zero":false},"axis":{"orient":"left","offset":-75,"values":[-8,-7,-6,-5,-4,-3,-2,-1,0],"labelExpr":"datum.value % 2 == 0 ? '' + datum.value : ''","tickSize":6,"labelPadding":4,"labelFontSize":16,"title":null,"labelOverlap":false,"labelFlush":false}},"text":{"field":"label"}}},
{"data":{"name":"txtC"},"transform":[{"filter":"datum.part=='yt1'"}],"mark":{"type":"text","fontSize":19,"fontStyle":"italic","angle":270},"encoding":{"x":{"field":"t","type":"quantitative","scale":{"domain":[-0.19,12.24],"range":[75,600],"nice":false,"zero":false},"axis":{"orient":"bottom","offset":-486,"values":[0,2,4,6,8,10,12],"tickSize":5,"labelPadding":6,"labelFontSize":16,"title":null,"labelOverlap":false,"labelFlush":false}},"y":{"field":"I","type":"quantitative","scale":{"domain":[0.27,-8],"range":[473,328.3],"nice":false,"zero":false},"axis":{"orient":"left","offset":-75,"values":[-8,-7,-6,-5,-4,-3,-2,-1,0],"labelExpr":"datum.value % 2 == 0 ? '' + datum.value : ''","tickSize":6,"labelPadding":4,"labelFontSize":16,"title":null,"labelOverlap":false,"labelFlush":false}},"text":{"field":"label"}}},
{"data":{"name":"txtC"},"transform":[{"filter":"datum.part=='yt2'"}],"mark":{"type":"text","fontSize":14,"angle":270,"dx":5.5,"dy":4},"encoding":{"x":{"field":"t","type":"quantitative","scale":{"domain":[-0.19,12.24],"range":[75,600],"nice":false,"zero":false},"axis":{"orient":"bottom","offset":-486,"values":[0,2,4,6,8,10,12],"tickSize":5,"labelPadding":6,"labelFontSize":16,"title":null,"labelOverlap":false,"labelFlush":false}},"y":{"field":"I","type":"quantitative","scale":{"domain":[0.27,-8],"range":[473,328.3],"nice":false,"zero":false},"axis":{"orient":"left","offset":-75,"values":[-8,-7,-6,-5,-4,-3,-2,-1,0],"labelExpr":"datum.value % 2 == 0 ? '' + datum.value : ''","tickSize":6,"labelPadding":4,"labelFontSize":16,"title":null,"labelOverlap":false,"labelFlush":false}},"text":{"field":"label"}}},
{"data":{"name":"txtC"},"transform":[{"filter":"datum.part=='yt3'"}],"mark":{"type":"text","fontSize":19,"angle":270,"dx":14.5},"encoding":{"x":{"field":"t","type":"quantitative","scale":{"domain":[-0.19,12.24],"range":[75,600],"nice":false,"zero":false},"axis":{"orient":"bottom","offset":-486,"values":[0,2,4,6,8,10,12],"tickSize":5,"labelPadding":6,"labelFontSize":16,"title":null,"labelOverlap":false,"labelFlush":false}},"y":{"field":"I","type":"quantitative","scale":{"domain":[0.27,-8],"range":[473,328.3],"nice":false,"zero":false},"axis":{"orient":"left","offset":-75,"values":[-8,-7,-6,-5,-4,-3,-2,-1,0],"labelExpr":"datum.value % 2 == 0 ? '' + datum.value : ''","tickSize":6,"labelPadding":4,"labelFontSize":16,"title":null,"labelOverlap":false,"labelFlush":false}},"text":{"field":"label"}}},
{"data":{"name":"txtC"},"transform":[{"filter":"datum.part=='yt4'"}],"mark":{"type":"text","fontSize":15,"angle":270,"dx":72.5,"dy":-8},"encoding":{"x":{"field":"t","type":"quantitative","scale":{"domain":[-0.19,12.24],"range":[75,600],"nice":false,"zero":false},"axis":{"orient":"bottom","offset":-486,"values":[0,2,4,6,8,10,12],"tickSize":5,"labelPadding":6,"labelFontSize":16,"title":null,"labelOverlap":false,"labelFlush":false}},"y":{"field":"I","type":"quantitative","scale":{"domain":[0.27,-8],"range":[473,328.3],"nice":false,"zero":false},"axis":{"orient":"left","offset":-75,"values":[-8,-7,-6,-5,-4,-3,-2,-1,0],"labelExpr":"datum.value % 2 == 0 ? '' + datum.value : ''","tickSize":6,"labelPadding":4,"labelFontSize":16,"title":null,"labelOverlap":false,"labelFlush":false}},"text":{"field":"label"}}},
{"data":{"name":"txtC"},"transform":[{"filter":"datum.part=='yt5'"}],"mark":{"type":"text","fontSize":19,"angle":270,"dx":87},"encoding":{"x":{"field":"t","type":"quantitative","scale":{"domain":[-0.19,12.24],"range":[75,600],"nice":false,"zero":false},"axis":{"orient":"bottom","offset":-486,"values":[0,2,4,6,8,10,12],"tickSize":5,"labelPadding":6,"labelFontSize":16,"title":null,"labelOverlap":false,"labelFlush":false}},"y":{"field":"I","type":"quantitative","scale":{"domain":[0.27,-8],"range":[473,328.3],"nice":false,"zero":false},"axis":{"orient":"left","offset":-75,"values":[-8,-7,-6,-5,-4,-3,-2,-1,0],"labelExpr":"datum.value % 2 == 0 ? '' + datum.value : ''","tickSize":6,"labelPadding":4,"labelFontSize":16,"title":null,"labelOverlap":false,"labelFlush":false}},"text":{"field":"label"}}},
{"data":{"name":"txtC"},"transform":[{"filter":"datum.part=='xt1'"}],"mark":{"type":"text","fontSize":18,"fontStyle":"italic"},"encoding":{"x":{"field":"t","type":"quantitative","scale":{"domain":[-0.19,12.24],"range":[75,600],"nice":false,"zero":false},"axis":{"orient":"bottom","offset":-486,"values":[0,2,4,6,8,10,12],"tickSize":5,"labelPadding":6,"labelFontSize":16,"title":null,"labelOverlap":false,"labelFlush":false}},"y":{"field":"I","type":"quantitative","scale":{"domain":[0.27,-8],"range":[473,328.3],"nice":false,"zero":false},"axis":{"orient":"left","offset":-75,"values":[-8,-7,-6,-5,-4,-3,-2,-1,0],"labelExpr":"datum.value % 2 == 0 ? '' + datum.value : ''","tickSize":6,"labelPadding":4,"labelFontSize":16,"title":null,"labelOverlap":false,"labelFlush":false}},"text":{"field":"label"}}},
{"data":{"name":"txtC"},"transform":[{"filter":"datum.part=='xt2'"}],"mark":{"type":"text","fontSize":18,"dx":10},"encoding":{"x":{"field":"t","type":"quantitative","scale":{"domain":[-0.19,12.24],"range":[75,600],"nice":false,"zero":false},"axis":{"orient":"bottom","offset":-486,"values":[0,2,4,6,8,10,12],"tickSize":5,"labelPadding":6,"labelFontSize":16,"title":null,"labelOverlap":false,"labelFlush":false}},"y":{"field":"I","type":"quantitative","scale":{"domain":[0.27,-8],"range":[473,328.3],"nice":false,"zero":false},"axis":{"orient":"left","offset":-75,"values":[-8,-7,-6,-5,-4,-3,-2,-1,0],"labelExpr":"datum.value % 2 == 0 ? '' + datum.value : ''","tickSize":6,"labelPadding":4,"labelFontSize":16,"title":null,"labelOverlap":false,"labelFlush":false}},"text":{"field":"label"}}}
]},
{"layer":[
{"data":{"name":"traceD"},"mark":{"type":"area","color":"black","opacity":1,"stroke":"black","strokeWidth":0.6},"encoding":{"x":{"field":"t","type":"quantitative","scale":{"domain":[0,32.844],"nice":false,"zero":false},"axis":null},"y":{"field":"hi","type":"quantitative","scale":{"domain":[-28.833,51.083],"nice":false,"zero":false},"axis":null},"y2":{"field":"lo"},"detail":{"field":"sweep","type":"nominal"}}},
{"data":{"name":"sweepD"},"mark":{"type":"rule","color":"black","strokeWidth":1.2,"strokeDash":[1.2,2.2]},"encoding":{"x":{"field":"t0","type":"quantitative","scale":{"domain":[0,32.844],"nice":false,"zero":false},"axis":null},"x2":{"field":"t1"},"y":{"datum":2.75,"type":"quantitative","scale":{"domain":[-28.833,51.083],"nice":false,"zero":false},"axis":null}}},
{"data":{"name":"atpD"},"mark":{"type":"rule","color":"#333","strokeWidth":1.4},"encoding":{"x":{"field":"t0","type":"quantitative","scale":{"domain":[0,32.844],"nice":false,"zero":false},"axis":null},"x2":{"field":"t1"},"y":{"datum":3.17,"type":"quantitative","scale":{"domain":[-28.833,51.083],"nice":false,"zero":false},"axis":null}}},
{"data":{"name":"refD"},"mark":{"type":"rule","color":"black","strokeWidth":1.2,"strokeDash":[8,4]},"encoding":{"x":{"field":"t0","type":"quantitative","scale":{"domain":[0,32.844],"nice":false,"zero":false},"axis":null},"x2":{"field":"t1"},"y":{"field":"I","type":"quantitative","scale":{"domain":[-28.833,51.083],"nice":false,"zero":false},"axis":null}}},
{"data":{"name":"nsD"},"mark":{"type":"rule","color":"#333","strokeWidth":1.4},"encoding":{"x":{"field":"t0","type":"quantitative","scale":{"domain":[0,32.844],"nice":false,"zero":false},"axis":null},"x2":{"field":"t1"},"y":{"field":"I","type":"quantitative","scale":{"domain":[-28.833,51.083],"nice":false,"zero":false},"axis":null}}},
{"data":{"name":"sbD"},"mark":{"type":"rule","color":"black","strokeWidth":1.2},"encoding":{"x":{"field":"t0","type":"quantitative","scale":{"domain":[0,32.844],"nice":false,"zero":false},"axis":null},"x2":{"field":"t1"},"y":{"field":"I0","type":"quantitative","scale":{"domain":[-28.833,51.083],"nice":false,"zero":false},"axis":null},"y2":{"field":"I1"}}},
{"data":{"name":"txtD"},"transform":[{"filter":"datum.part=='letter'"}],"mark":{"type":"text","fontSize":20,"fontWeight":"bold"},"encoding":{"x":{"field":"t","type":"quantitative","scale":{"domain":[0,32.844],"nice":false,"zero":false},"axis":null},"y":{"field":"I","type":"quantitative","scale":{"domain":[-28.833,51.083],"nice":false,"zero":false},"axis":null},"text":{"field":"label"}}},
{"data":{"name":"txtD"},"transform":[{"filter":"datum.part=='atp' || datum.part=='sb1'"}],"mark":{"type":"text","fontSize":18},"encoding":{"x":{"field":"t","type":"quantitative","scale":{"domain":[0,32.844],"nice":false,"zero":false},"axis":null},"y":{"field":"I","type":"quantitative","scale":{"domain":[-28.833,51.083],"nice":false,"zero":false},"axis":null},"text":{"field":"label"}}},
{"data":{"name":"txtD"},"transform":[{"filter":"datum.part=='sb2'"}],"mark":{"type":"text","fontSize":12.5,"dx":63.5,"dy":-9},"encoding":{"x":{"field":"t","type":"quantitative","scale":{"domain":[0,32.844],"nice":false,"zero":false},"axis":null},"y":{"field":"I","type":"quantitative","scale":{"domain":[-28.833,51.083],"nice":false,"zero":false},"axis":null},"text":{"field":"label"}}},
{"data":{"name":"txtD"},"transform":[{"filter":"datum.part=='sb3' || datum.part=='ns'"}],"mark":{"type":"text","fontSize":18,"align":"center"},"encoding":{"x":{"field":"t","type":"quantitative","scale":{"domain":[0,32.844],"nice":false,"zero":false},"axis":null},"y":{"field":"I","type":"quantitative","scale":{"domain":[-28.833,51.083],"nice":false,"zero":false},"axis":null},"text":{"field":"label"}}},
{"data":{"name":"txtD"},"transform":[{"filter":"datum.part=='mg1'"}],"mark":{"type":"text","fontSize":18,"fontWeight":"bold"},"encoding":{"x":{"field":"t","type":"quantitative","scale":{"domain":[0,32.844],"nice":false,"zero":false},"axis":null},"y":{"field":"I","type":"quantitative","scale":{"domain":[-28.833,51.083],"nice":false,"zero":false},"axis":null},"text":{"field":"label"}}},
{"data":{"name":"txtD"},"transform":[{"filter":"datum.part=='mg2'"}],"mark":{"type":"text","fontSize":16,"fontWeight":"bold","dx":85.5,"dy":-11},"encoding":{"x":{"field":"t","type":"quantitative","scale":{"domain":[0,32.844],"nice":false,"zero":false},"axis":null},"y":{"field":"I","type":"quantitative","scale":{"domain":[-28.833,51.083],"nice":false,"zero":false},"axis":null},"text":{"field":"label"}}},
{"data":{"name":"txtD"},"transform":[{"filter":"datum.part=='mg3'"}],"mark":{"type":"text","fontSize":18,"fontWeight":"bold","dx":105},"encoding":{"x":{"field":"t","type":"quantitative","scale":{"domain":[0,32.844],"nice":false,"zero":false},"axis":null},"y":{"field":"I","type":"quantitative","scale":{"domain":[-28.833,51.083],"nice":false,"zero":false},"axis":null},"text":{"field":"label"}}},
{"data":{"name":"txtD"},"transform":[{"filter":"datum.part=='mg4'"}],"mark":{"type":"text","fontSize":13,"fontWeight":"bold","dx":112,"dy":4},"encoding":{"x":{"field":"t","type":"quantitative","scale":{"domain":[0,32.844],"nice":false,"zero":false},"axis":null},"y":{"field":"I","type":"quantitative","scale":{"domain":[-28.833,51.083],"nice":false,"zero":false},"axis":null},"text":{"field":"label"}}},
{"data":{"name":"txtD"},"transform":[{"filter":"datum.part=='iI'"}],"mark":{"type":"text","fontSize":18,"fontStyle":"italic"},"encoding":{"x":{"field":"t","type":"quantitative","scale":{"domain":[0,32.844],"nice":false,"zero":false},"axis":null},"y":{"field":"I","type":"quantitative","scale":{"domain":[-28.833,51.083],"nice":false,"zero":false},"axis":null},"text":{"field":"label"}}},
{"data":{"name":"txtD"},"transform":[{"filter":"datum.part=='isub'"}],"mark":{"type":"text","fontSize":14,"dx":6,"dy":5},"encoding":{"x":{"field":"t","type":"quantitative","scale":{"domain":[0,32.844],"nice":false,"zero":false},"axis":null},"y":{"field":"I","type":"quantitative","scale":{"domain":[-28.833,51.083],"nice":false,"zero":false},"axis":null},"text":{"field":"label"}}}
]},
{"layer":[
{"data":{"name":"barE"},"transform":[{"filter":"datum.pos==1"}],"mark":{"type":"bar","orient":"vertical","width":91,"fill":"white","stroke":"black","strokeWidth":1.2,"opacity":1},"encoding":{"x":{"field":"pos","type":"quantitative","scale":{"domain":[0.399,2.603],"range":[75,583],"nice":false,"zero":false},"axis":{"orient":"bottom","offset":-7.3,"ticks":false,"labels":false,"title":null,"domainColor":"#222"}},"y":{"field":"value","type":"quantitative","scale":{"domain":[0,125],"range":[951.7,806.7],"nice":false,"zero":false},"axis":{"orient":"left","offset":-75,"values":[0,25,50,75,100,125],"tickSize":6,"labelPadding":5,"labelFontSize":16,"title":null,"labelOverlap":false,"labelFlush":false,"domainColor":"#222"}},"y2":{"datum":0}}},
{"data":{"name":"barE"},"transform":[{"filter":"datum.pos==2"}],"mark":{"type":"bar","orient":"vertical","width":91,"fill":"black","stroke":"black","strokeWidth":1.2,"opacity":1},"encoding":{"x":{"field":"pos","type":"quantitative","scale":{"domain":[0.399,2.603],"range":[75,583],"nice":false,"zero":false},"axis":{"orient":"bottom","offset":-7.3,"ticks":false,"labels":false,"title":null,"domainColor":"#222"}},"y":{"field":"value","type":"quantitative","scale":{"domain":[0,125],"range":[951.7,806.7],"nice":false,"zero":false},"axis":{"orient":"left","offset":-75,"values":[0,25,50,75,100,125],"tickSize":6,"labelPadding":5,"labelFontSize":16,"title":null,"labelOverlap":false,"labelFlush":false,"domainColor":"#222"}},"y2":{"datum":0}}},
{"data":{"name":"barE"},"mark":{"type":"rule","color":"black","strokeWidth":1.2},"encoding":{"x":{"field":"pos","type":"quantitative","scale":{"domain":[0.399,2.603],"range":[75,583],"nice":false,"zero":false},"axis":{"orient":"bottom","offset":-7.3,"ticks":false,"labels":false,"title":null,"domainColor":"#222"}},"y":{"field":"lo","type":"quantitative","scale":{"domain":[0,125],"range":[951.7,806.7],"nice":false,"zero":false},"axis":{"orient":"left","offset":-75,"values":[0,25,50,75,100,125],"tickSize":6,"labelPadding":5,"labelFontSize":16,"title":null,"labelOverlap":false,"labelFlush":false,"domainColor":"#222"}},"y2":{"field":"hi"}}},
{"data":{"name":"barE"},"mark":{"type":"tick","orient":"horizontal","size":7,"thickness":1.3,"color":"black","opacity":1},"encoding":{"x":{"field":"pos","type":"quantitative","scale":{"domain":[0.399,2.603],"range":[75,583],"nice":false,"zero":false},"axis":{"orient":"bottom","offset":-7.3,"ticks":false,"labels":false,"title":null,"domainColor":"#222"}},"y":{"field":"hi","type":"quantitative","scale":{"domain":[0,125],"range":[951.7,806.7],"nice":false,"zero":false},"axis":{"orient":"left","offset":-75,"values":[0,25,50,75,100,125],"tickSize":6,"labelPadding":5,"labelFontSize":16,"title":null,"labelOverlap":false,"labelFlush":false,"domainColor":"#222"}}}},
{"data":{"name":"barE"},"transform":[{"filter":"datum.pos==1"}],"mark":{"type":"tick","orient":"horizontal","size":7,"thickness":1.3,"color":"black","opacity":1},"encoding":{"x":{"field":"pos","type":"quantitative","scale":{"domain":[0.399,2.603],"range":[75,583],"nice":false,"zero":false},"axis":{"orient":"bottom","offset":-7.3,"ticks":false,"labels":false,"title":null,"domainColor":"#222"}},"y":{"field":"lo","type":"quantitative","scale":{"domain":[0,125],"range":[951.7,806.7],"nice":false,"zero":false},"axis":{"orient":"left","offset":-75,"values":[0,25,50,75,100,125],"tickSize":6,"labelPadding":5,"labelFontSize":16,"title":null,"labelOverlap":false,"labelFlush":false,"domainColor":"#222"}}}},
{"data":{"name":"refE"},"mark":{"type":"rule","color":"#333","strokeWidth":1.2,"strokeDash":[9,5]},"encoding":{"x":{"field":"p0","type":"quantitative","scale":{"domain":[0.399,2.603],"range":[75,583],"nice":false,"zero":false},"axis":{"orient":"bottom","offset":-7.3,"ticks":false,"labels":false,"title":null,"domainColor":"#222"}},"x2":{"field":"p1"},"y":{"field":"value","type":"quantitative","scale":{"domain":[0,125],"range":[951.7,806.7],"nice":false,"zero":false},"axis":{"orient":"left","offset":-75,"values":[0,25,50,75,100,125],"tickSize":6,"labelPadding":5,"labelFontSize":16,"title":null,"labelOverlap":false,"labelFlush":false,"domainColor":"#222"}}}},
{"data":{"name":"txtE"},"transform":[{"filter":"datum.part=='letter'"}],"mark":{"type":"text","fontSize":20,"fontWeight":"bold"},"encoding":{"x":{"field":"pos","type":"quantitative","scale":{"domain":[0.399,2.603],"range":[75,583],"nice":false,"zero":false},"axis":{"orient":"bottom","offset":-7.3,"ticks":false,"labels":false,"title":null,"domainColor":"#222"}},"y":{"field":"value","type":"quantitative","scale":{"domain":[0,125],"range":[951.7,806.7],"nice":false,"zero":false},"axis":{"orient":"left","offset":-75,"values":[0,25,50,75,100,125],"tickSize":6,"labelPadding":5,"labelFontSize":16,"title":null,"labelOverlap":false,"labelFlush":false,"domainColor":"#222"}},"text":{"field":"label"}}},
{"data":{"name":"txtE"},"transform":[{"filter":"datum.part=='ctr'"}],"mark":{"type":"text","fontSize":18,"align":"center"},"encoding":{"x":{"field":"pos","type":"quantitative","scale":{"domain":[0.399,2.603],"range":[75,583],"nice":false,"zero":false},"axis":{"orient":"bottom","offset":-7.3,"ticks":false,"labels":false,"title":null,"domainColor":"#222"}},"y":{"field":"value","type":"quantitative","scale":{"domain":[0,125],"range":[951.7,806.7],"nice":false,"zero":false},"axis":{"orient":"left","offset":-75,"values":[0,25,50,75,100,125],"tickSize":6,"labelPadding":5,"labelFontSize":16,"title":null,"labelOverlap":false,"labelFlush":false,"domainColor":"#222"}},"text":{"field":"label"}}},
{"data":{"name":"txtE"},"transform":[{"filter":"datum.part=='star'"}],"mark":{"type":"text","fontSize":20,"fontWeight":"bold","align":"center"},"encoding":{"x":{"field":"pos","type":"quantitative","scale":{"domain":[0.399,2.603],"range":[75,583],"nice":false,"zero":false},"axis":{"orient":"bottom","offset":-7.3,"ticks":false,"labels":false,"title":null,"domainColor":"#222"}},"y":{"field":"value","type":"quantitative","scale":{"domain":[0,125],"range":[951.7,806.7],"nice":false,"zero":false},"axis":{"orient":"left","offset":-75,"values":[0,25,50,75,100,125],"tickSize":6,"labelPadding":5,"labelFontSize":16,"title":null,"labelOverlap":false,"labelFlush":false,"domainColor":"#222"}},"text":{"field":"label"}}},
{"data":{"name":"txtE"},"transform":[{"filter":"datum.part=='yt1'"}],"mark":{"type":"text","fontSize":18,"fontStyle":"italic","angle":270},"encoding":{"x":{"field":"pos","type":"quantitative","scale":{"domain":[0.399,2.603],"range":[75,583],"nice":false,"zero":false},"axis":{"orient":"bottom","offset":-7.3,"ticks":false,"labels":false,"title":null,"domainColor":"#222"}},"y":{"field":"value","type":"quantitative","scale":{"domain":[0,125],"range":[951.7,806.7],"nice":false,"zero":false},"axis":{"orient":"left","offset":-75,"values":[0,25,50,75,100,125],"tickSize":6,"labelPadding":5,"labelFontSize":16,"title":null,"labelOverlap":false,"labelFlush":false,"domainColor":"#222"}},"text":{"field":"label"}}},
{"data":{"name":"txtE"},"transform":[{"filter":"datum.part=='yt4'"}],"mark":{"type":"text","fontSize":18,"fontStyle":"italic","angle":270,"dx":17.5},"encoding":{"x":{"field":"pos","type":"quantitative","scale":{"domain":[0.399,2.603],"range":[75,583],"nice":false,"zero":false},"axis":{"orient":"bottom","offset":-7.3,"ticks":false,"labels":false,"title":null,"domainColor":"#222"}},"y":{"field":"value","type":"quantitative","scale":{"domain":[0,125],"range":[951.7,806.7],"nice":false,"zero":false},"axis":{"orient":"left","offset":-75,"values":[0,25,50,75,100,125],"tickSize":6,"labelPadding":5,"labelFontSize":16,"title":null,"labelOverlap":false,"labelFlush":false,"domainColor":"#222"}},"text":{"field":"label"}}},
{"data":{"name":"txtE"},"transform":[{"filter":"datum.part=='yt2'"}],"mark":{"type":"text","fontSize":13,"angle":270,"dx":5,"dy":4},"encoding":{"x":{"field":"pos","type":"quantitative","scale":{"domain":[0.399,2.603],"range":[75,583],"nice":false,"zero":false},"axis":{"orient":"bottom","offset":-7.3,"ticks":false,"labels":false,"title":null,"domainColor":"#222"}},"y":{"field":"value","type":"quantitative","scale":{"domain":[0,125],"range":[951.7,806.7],"nice":false,"zero":false},"axis":{"orient":"left","offset":-75,"values":[0,25,50,75,100,125],"tickSize":6,"labelPadding":5,"labelFontSize":16,"title":null,"labelOverlap":false,"labelFlush":false,"domainColor":"#222"}},"text":{"field":"label"}}},
{"data":{"name":"txtE"},"transform":[{"filter":"datum.part=='yt3'"}],"mark":{"type":"text","fontSize":18,"angle":270,"dx":12.5},"encoding":{"x":{"field":"pos","type":"quantitative","scale":{"domain":[0.399,2.603],"range":[75,583],"nice":false,"zero":false},"axis":{"orient":"bottom","offset":-7.3,"ticks":false,"labels":false,"title":null,"domainColor":"#222"}},"y":{"field":"value","type":"quantitative","scale":{"domain":[0,125],"range":[951.7,806.7],"nice":false,"zero":false},"axis":{"orient":"left","offset":-75,"values":[0,25,50,75,100,125],"tickSize":6,"labelPadding":5,"labelFontSize":16,"title":null,"labelOverlap":false,"labelFlush":false,"domainColor":"#222"}},"text":{"field":"label"}}},
{"data":{"name":"txtE"},"transform":[{"filter":"datum.part=='yt5'"}],"mark":{"type":"text","fontSize":13,"angle":270,"dx":22.8,"dy":4},"encoding":{"x":{"field":"pos","type":"quantitative","scale":{"domain":[0.399,2.603],"range":[75,583],"nice":false,"zero":false},"axis":{"orient":"bottom","offset":-7.3,"ticks":false,"labels":false,"title":null,"domainColor":"#222"}},"y":{"field":"value","type":"quantitative","scale":{"domain":[0,125],"range":[951.7,806.7],"nice":false,"zero":false},"axis":{"orient":"left","offset":-75,"values":[0,25,50,75,100,125],"tickSize":6,"labelPadding":5,"labelFontSize":16,"title":null,"labelOverlap":false,"labelFlush":false,"domainColor":"#222"}},"text":{"field":"label"}}},
{"data":{"name":"txtE"},"transform":[{"filter":"datum.part=='yt6'"}],"mark":{"type":"text","fontSize":18,"angle":270,"dx":35},"encoding":{"x":{"field":"pos","type":"quantitative","scale":{"domain":[0.399,2.603],"range":[75,583],"nice":false,"zero":false},"axis":{"orient":"bottom","offset":-7.3,"ticks":false,"labels":false,"title":null,"domainColor":"#222"}},"y":{"field":"value","type":"quantitative","scale":{"domain":[0,125],"range":[951.7,806.7],"nice":false,"zero":false},"axis":{"orient":"left","offset":-75,"values":[0,25,50,75,100,125],"tickSize":6,"labelPadding":5,"labelFontSize":16,"title":null,"labelOverlap":false,"labelFlush":false,"domainColor":"#222"}},"text":{"field":"label"}}}
]}
]
}
